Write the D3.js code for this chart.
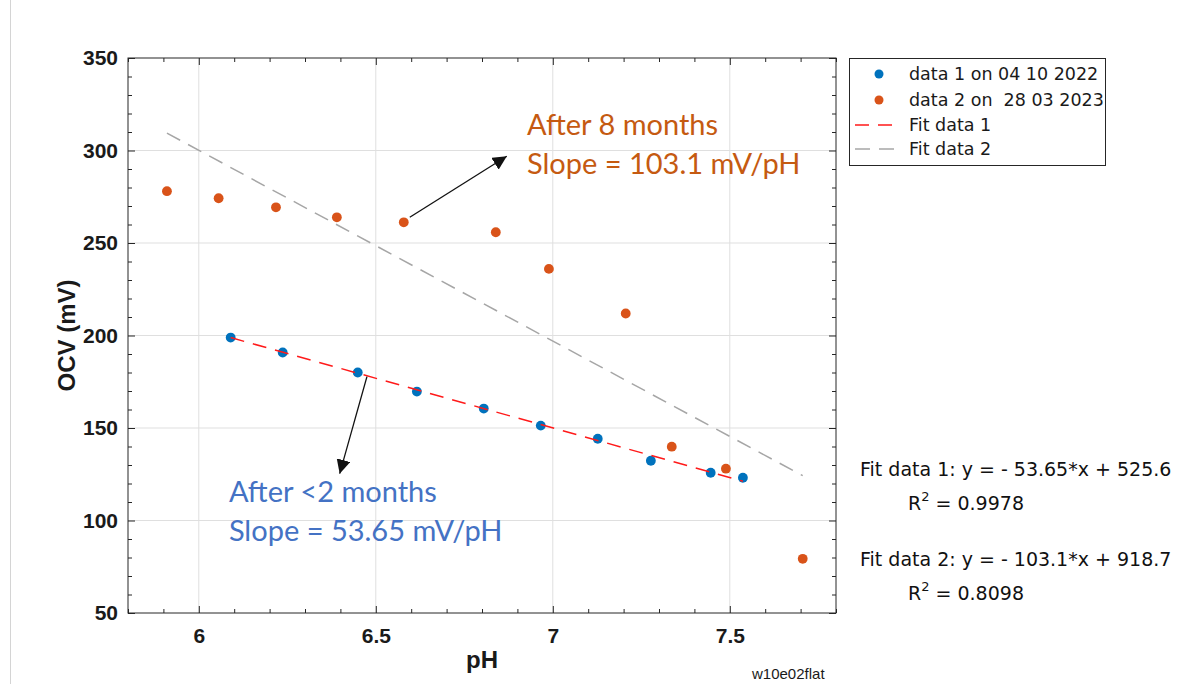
<!DOCTYPE html>
<html>
<head>
<meta charset="utf-8">
<script src="https://cdn.jsdelivr.net/npm/d3@7"></script>
<style>
  html, body { margin: 0; padding: 0; background: #fff; }
  svg { display: block; }
</style>
</head>
<body>
<svg id="chart" width="1194" height="684"></svg>
<script>
// ---------- data ----------
const phData1  = [6.090, 6.237, 6.449, 6.616, 6.805, 6.966, 7.127, 7.277, 7.446, 7.537];
const ocvData1 = [198.9, 190.8, 180.0, 169.7, 160.5, 151.3, 144.2, 132.3, 125.8, 123.1];
const phData2  = [5.910, 6.056, 6.218, 6.390, 6.579, 6.839, 6.989, 7.206, 7.336, 7.489, 7.706];
const ocvData2 = [278.0, 274.2, 269.3, 263.9, 261.2, 255.8, 236.0, 211.9, 139.9, 128.0, 79.3];
const fit1 = { slope: -53.65, intercept: 525.6, r2: "0.9978" };
const fit2 = { slope: -103.1, intercept: 918.7, r2: "0.8098" };
const xTicks = [6, 6.5, 7, 7.5];
const yTicks = [50, 100, 150, 200, 250, 300, 350];
const xDomain = [5.8, 7.8];
const yDomain = [50, 350];
const legendLabels = ["data 1 on 04 10 2022", "data 2 on  28 03 2023", "Fit data 1", "Fit data 2"];
const fitTexts = ["Fit data 1: y = - 53.65*x + 525.6", "Fit data 2: y = - 103.1*x + 918.7"];
const note1 = ["After 8 months", "Slope = 103.1 mV/pH"];
const note2 = ["After <2 months", "Slope = 53.65 mV/pH"];
// arrow anchors in data units [pH, mV]
const arrow1 = [[6.596, 263.9], [6.870, 296.9]];
const arrow2 = [[6.475, 177.8], [6.398, 125.3]];
const note1Pos = [6.927, 308.3];
const note2Pos = [6.085, 110.1];

// ---------- setup ----------
const svg = d3.select("#chart");
const L = 128, R = 836, T = 58, B = 613;
const x = d3.scaleLinear().domain(xDomain).range([L, R]);
const y = d3.scaleLinear().domain(yDomain).range([B, T]);

const C_BLUE = "#0072BD", C_ORANGE = "#D95319";
const AX = "#262626";
const tickFont = "'Liberation Sans', Arial, sans-serif";
const textFont = "'DejaVu Sans', sans-serif";

// left faint page edge line
svg.append("line").attr("x1", 10.5).attr("x2", 10.5).attr("y1", 0).attr("y2", 684)
  .attr("stroke", "#d4d4d4").attr("stroke-width", 1);

// plot background
svg.append("rect").attr("x", L).attr("y", T).attr("width", R - L).attr("height", B - T).attr("fill", "#fff");

// grid
const grid = svg.append("g");
grid.selectAll(".gx").data(xTicks).join("line")
  .attr("x1", d => x(d)).attr("x2", d => x(d)).attr("y1", T).attr("y2", B)
  .attr("stroke", "#dfdfdf").attr("stroke-width", 1);
grid.selectAll(".gy").data(yTicks.slice(1, -1)).join("line")
  .attr("x1", L).attr("x2", R).attr("y1", d => y(d)).attr("y2", d => y(d))
  .attr("stroke", "#dfdfdf").attr("stroke-width", 1);

// minor tick values
const xMinor = d3.range(58, 79).map(v => v / 10).filter(v => !xTicks.some(t => Math.abs(t - v) < 1e-6));
const yMinor = d3.range(5, 36).map(v => v * 10).filter(v => !yTicks.includes(v));

function styleAxis(g) {
  g.select(".domain").remove();
  g.selectAll(".tick line").attr("stroke", AX).attr("stroke-width", 1);
  g.selectAll(".tick text").attr("fill", "#1a1a1a").attr("font-family", tickFont)
    .attr("font-weight", "bold").attr("font-size", 21);
}

// bottom
svg.append("g").attr("transform", `translate(0,${B})`)
  .call(d3.axisBottom(x).tickValues(xTicks).tickFormat(d3.format("")).tickSizeInner(-7).tickSizeOuter(0).tickPadding(15))
  .call(styleAxis);
svg.append("g").attr("transform", `translate(0,${B})`)
  .call(d3.axisBottom(x).tickValues(xMinor).tickFormat("").tickSizeInner(-4).tickSizeOuter(0))
  .call(styleAxis);
// top
svg.append("g").attr("transform", `translate(0,${T})`)
  .call(d3.axisTop(x).tickValues(xTicks).tickFormat("").tickSizeInner(-7).tickSizeOuter(0))
  .call(styleAxis);
svg.append("g").attr("transform", `translate(0,${T})`)
  .call(d3.axisTop(x).tickValues(xMinor).tickFormat("").tickSizeInner(-4).tickSizeOuter(0))
  .call(styleAxis);
// left
svg.append("g").attr("transform", `translate(${L},0)`)
  .call(d3.axisLeft(y).tickValues(yTicks).tickFormat(d3.format("d")).tickSizeInner(-7).tickSizeOuter(0).tickPadding(10))
  .call(styleAxis);
svg.append("g").attr("transform", `translate(${L},0)`)
  .call(d3.axisLeft(y).tickValues(yMinor).tickFormat("").tickSizeInner(-4).tickSizeOuter(0))
  .call(styleAxis);
// right
svg.append("g").attr("transform", `translate(${R},0)`)
  .call(d3.axisRight(y).tickValues(yTicks).tickFormat("").tickSizeInner(-7).tickSizeOuter(0))
  .call(styleAxis);
svg.append("g").attr("transform", `translate(${R},0)`)
  .call(d3.axisRight(y).tickValues(yMinor).tickFormat("").tickSizeInner(-4).tickSizeOuter(0))
  .call(styleAxis);

// frame
svg.append("rect").attr("x", L).attr("y", T).attr("width", R - L).attr("height", B - T)
  .attr("fill", "none").attr("stroke", AX).attr("stroke-width", 1);

// axis titles
svg.append("text").attr("x", (L + R) / 2).attr("y", 668).attr("text-anchor", "middle")
  .attr("font-family", tickFont).attr("font-weight", "bold").attr("font-size", 24).attr("fill", "#1a1a1a")
  .text("pH");
svg.append("text").attr("transform", `translate(75,${(T + B) / 2}) rotate(-90)`).attr("text-anchor", "middle")
  .attr("font-family", tickFont).attr("font-weight", "bold").attr("font-size", 24).attr("fill", "#1a1a1a")
  .text("OCV (mV)");
svg.append("text").attr("x", 752).attr("y", 679)
  .attr("font-family", tickFont).attr("font-size", 15).attr("fill", "#1a1a1a")
  .text("w10e02flat");

// fit lines & points
const line = d3.line().x(d => x(d[0])).y(d => y(d[1]));
function fitPts(f, xs) {
  const ext = d3.extent(xs);
  return ext.map(v => [v, f.slope * v + f.intercept]);
}
const d1 = phData1.map((v, i) => [v, ocvData1[i]]);
const d2 = phData2.map((v, i) => [v, ocvData2[i]]);
svg.append("g").selectAll("circle").data(d1).join("circle")
  .attr("cx", d => x(d[0])).attr("cy", d => y(d[1])).attr("r", 4.9).attr("fill", C_BLUE);
svg.append("g").selectAll("circle").data(d2).join("circle")
  .attr("cx", d => x(d[0])).attr("cy", d => y(d[1])).attr("r", 4.9).attr("fill", C_ORANGE);

svg.append("path").datum(fitPts(fit1, phData1)).attr("d", line)
  .attr("fill", "none").attr("stroke", "#ff1a1a").attr("stroke-width", 1.5).attr("stroke-dasharray", "14,9");
svg.append("path").datum(fitPts(fit2, phData2)).attr("d", line)
  .attr("fill", "none").attr("stroke", "#a6a6a6").attr("stroke-width", 1.5).attr("stroke-dasharray", "15,9");

// arrows
const defs = svg.append("defs");
defs.append("marker").attr("id", "ah").attr("viewBox", "0 0 10 10").attr("refX", 10).attr("refY", 5)
  .attr("markerWidth", 14).attr("markerHeight", 14).attr("markerUnits", "userSpaceOnUse").attr("orient", "auto")
  .append("path").attr("d", "M0,0 L10,5 L0,10 Z").attr("fill", "#111");
[arrow1, arrow2].forEach(a => {
  svg.append("line")
    .attr("x1", x(a[0][0])).attr("y1", y(a[0][1])).attr("x2", x(a[1][0])).attr("y2", y(a[1][1]))
    .attr("stroke", "#111").attr("stroke-width", 1.3).attr("marker-end", "url(#ah)");
});

// annotations
const noteFont = "Lato, 'Open Sans', sans-serif";
function note(lines, pos, color) {
  const t = svg.append("text").attr("font-family", noteFont).attr("font-size", 29).attr("fill", color);
  lines.forEach((s, i) => {
    t.append("tspan").attr("x", x(pos[0])).attr("y", y(pos[1]) + i * 39).text(s);
  });
}
note(note1, note1Pos, "#C55A11");
note(note2, note2Pos, "#4472C4");

// legend
const lg = svg.append("g");
lg.append("rect").attr("x", 849.5).attr("y", 58.5).attr("width", 256).attr("height", 107)
  .attr("fill", "#fff").attr("stroke", AX).attr("stroke-width", 1);
const legendRows = [
  { type: "dot", color: C_BLUE },
  { type: "dot", color: C_ORANGE },
  { type: "line", color: "#ff1a1a", dash: "14,9" },
  { type: "line", color: "#a6a6a6", dash: "15,9" }
];
const rowY = [74, 100, 125, 149];
legendRows.forEach((r, i) => {
  if (r.type === "dot") {
    lg.append("circle").attr("cx", 879).attr("cy", rowY[i]).attr("r", 4.5).attr("fill", r.color);
  } else {
    lg.append("line").attr("x1", 855).attr("x2", 895).attr("y1", rowY[i]).attr("y2", rowY[i])
      .attr("stroke", r.color).attr("stroke-width", 1.5).attr("stroke-dasharray", r.dash);
  }
  lg.append("text").attr("x", 909).attr("y", rowY[i]).attr("dy", "0.36em")
    .attr("font-family", textFont).attr("font-size", 17.5).attr("fill", "#1a1a1a")
    .attr("xml:space", "preserve").style("white-space", "pre")
    .text(legendLabels[i]);
});

// fit equations
const eq = svg.append("g").attr("font-family", textFont).attr("font-size", 19).attr("fill", "#111");
[[fitTexts[0], fit1.r2, 476, 510], [fitTexts[1], fit2.r2, 566, 600]].forEach(([s, r2, y1, y2]) => {
  eq.append("text").attr("x", 860).attr("y", y1).text(s);
  const t = eq.append("text").attr("x", 908).attr("y", y2);
  t.append("tspan").text("R");
  t.append("tspan").attr("font-size", 13).attr("dy", -9).text("2");
  t.append("tspan").attr("dy", 9).text(" = " + r2);
});
</script>
</body>
</html>
